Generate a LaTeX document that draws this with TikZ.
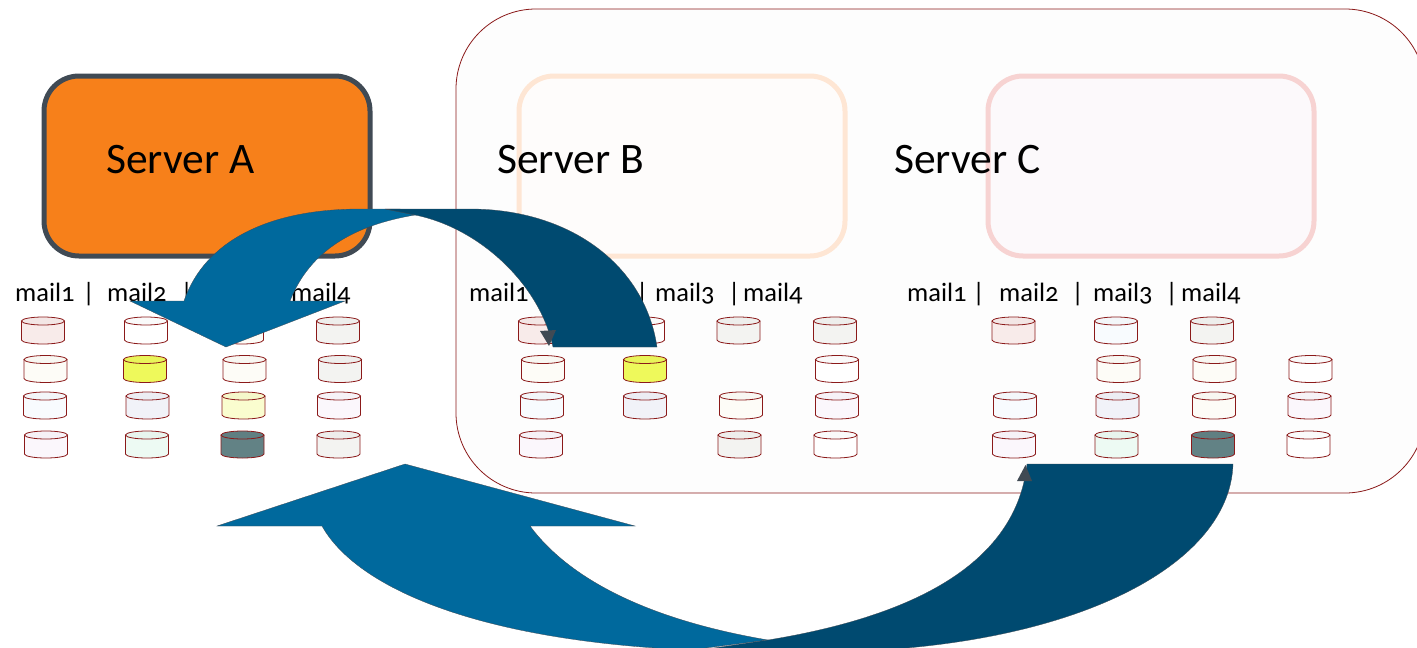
\documentclass[tikz,border=0pt]{standalone}
\usepackage{fontspec}
\setmainfont{Carlito}[Numbers=OldStyle]
\definecolor{wine}{HTML}{8B1A1A}
\definecolor{slate}{HTML}{404A54}
\definecolor{lightblue}{HTML}{00699D}
\definecolor{darkblue}{HTML}{004A70}
\definecolor{dw}{HTML}{FFFFFF}
\definecolor{dp}{HTML}{F8EBEA}
\definecolor{dg}{HTML}{F3F3F1}
\definecolor{dc}{HTML}{FDFCF7}
\definecolor{dy}{HTML}{EEF95B}
\definecolor{dl}{HTML}{FAFDCF}
\definecolor{db}{HTML}{F8FBFE}
\definecolor{dv}{HTML}{F1F2F8}
\definecolor{dm}{HTML}{FBF7FC}
\definecolor{dt}{HTML}{EDFAF3}
\definecolor{dd}{HTML}{628285}
\tikzset{
  pics/disk/.style={code={
    \node [inner sep=0pt, minimum width=43pt, minimum height=27pt] (-box) {};
    \draw [draw=wine, line width=0.8pt, fill=#1] (-21.5,-9.5) -- (-21.5,9.5) arc [start angle=180, end angle=0, x radius=21.5, y radius=4] -- (21.5,-9.5);
    \draw [draw=wine, line width=0.8pt, fill=#1!98!black] (0,-9.5) ellipse [x radius=21.5, y radius=4];
  }},
  serverbox/.style={rectangle, rounded corners=35pt, minimum width=326pt, minimum height=180pt, line width=5pt},
  servertext/.style={anchor=base west, inner sep=0pt, font=\fontsize{43.5}{43.5}\selectfont},
  mailtext/.style={anchor=base west, inner sep=0pt, font=\fontsize{26.5}{26.5}\selectfont},
  bararrow/.style={draw=slate, line width=0.3pt}
}
\begin{document}
\begin{tikzpicture}[x=1pt,y=-1pt]
\useasboundingbox (0,0) rectangle (1417,648);
\node [rectangle, rounded corners=80pt, draw=wine, fill={rgb,255:red,253;green,253;blue,253}, line width=0.8pt, minimum width=969pt, minimum height=484pt] (group) at (940.5,251) {};
\node [serverbox, draw=slate, fill={rgb,255:red,247;green,128;blue,26}] (serverA) at (207,166) {};
\node [serverbox, draw={rgb,255:red,254;green,230;blue,212}, fill={rgb,255:red,254;green,252;blue,251}] (serverB) at (682,166) {};
\node [serverbox, draw={rgb,255:red,247;green,211;blue,210}, fill={rgb,255:red,252;green,249;blue,251}] (serverC) at (1151,166) {};
\node [servertext] (labelA) at (106,173) {Server A};
\node [servertext] (labelB) at (497,173) {Server B};
\node [servertext] (labelC) at (894,173) {Server C};
\foreach \n/\x/\t in {a1/15/mail1, a2/82.5/|, a3/107/mail2, a4/180.5/|, a5/201/mail3, a6/273/|, a7/291/mail4,
  b1/469/mail1, b2/538/|, b3/562/mail2, b4/636/|, b5/655/mail3, b6/728/|, b7/743/mail4,
  c1/907/mail1, c2/972.5/|, c3/999/mail2, c4/1071.5/|, c5/1093/mail3, c6/1165.5/|, c7/1181/mail4}
  \node [mailtext] (m\n) at (\x,301) {\t};
\foreach \n/\x/\y/\c in {a11/43/330.5/dp, a12/146/330.5/dw, a13/242/330.5/dc, a14/338/330.5/dg,
  a21/45.5/369/dc, a22/145/369/dy, a23/244.5/369/dc, a24/340/369/dg,
  a31/45/405.5/db, a32/147.5/405.5/dv, a33/243.5/405.5/dl, a34/339/405.5/dm,
  a41/46/444.5/dm, a42/147/444.5/dt, a43/242.5/444.5/dd, a44/338.5/444.5/dg,
  b11/540/330.5/dp, b12/643/330.5/dw, b13/738.5/330.5/dg, b14/835/330.5/dg,
  b21/543/369/dc, b22/645/369/dy, b24/837/369/dw,
  b31/542/405.5/db, b32/645/405.5/dv, b33/741/405.5/dc, b34/837/405.5/dm,
  b41/541/444.5/dm, b43/739.5/444.5/dg, b44/835.5/444.5/dw,
  c11/1013.5/330.5/dp, c12/1116/330.5/db, c13/1212/330.5/dg,
  c22/1118.5/369/dc, c23/1214.5/369/dc, c24/1310.5/369/dw,
  c31/1015/405.5/db, c32/1117.5/405.5/dv, c33/1214/405.5/dc, c34/1309.5/405.5/dm,
  c41/1014/444.5/dm, c42/1116.5/444.5/dt, c43/1213/444.5/dd, c44/1308.5/444.5/dw}
  \pic (\n) at (\x,\y) {disk=\c};
\draw [bararrow, fill=lightblue] (184,301) .. controls (205,240) and (270,209) .. (360,209) -- (400,209) -- (415,215) .. controls (355,225) and (310,250) .. (290,301) -- (345,301) -- (226,347) -- (130,301) -- cycle;
\draw [bararrow, fill=darkblue] (553,347) .. controls (540,285) and (480,228) .. (415,215) -- (385,209) -- (470,209) .. controls (570,209) and (645,265) .. (657,347) -- cycle;
\fill [slate] (540,331) -- (556,330) -- (549,346) -- cycle;
\draw [bararrow, fill=lightblue] (322,526) .. controls (355,585) and (470,640) .. (690,650) -- (768,640) .. controls (650,620) and (570,580) .. (530,526) -- (635,526) -- (405,464) -- (217,526) -- cycle;
\draw [bararrow, fill=darkblue] (1027,464) -- (1233,464) .. controls (1230,570) and (1060,655) .. (800,652) -- (700,650) -- (768,640) .. controls (890,620) and (1015,575) .. (1027,464) -- cycle;
\fill [slate] (1025.5,465) -- (1017,481) -- (1032,481) -- cycle;
\end{tikzpicture}
\end{document}
